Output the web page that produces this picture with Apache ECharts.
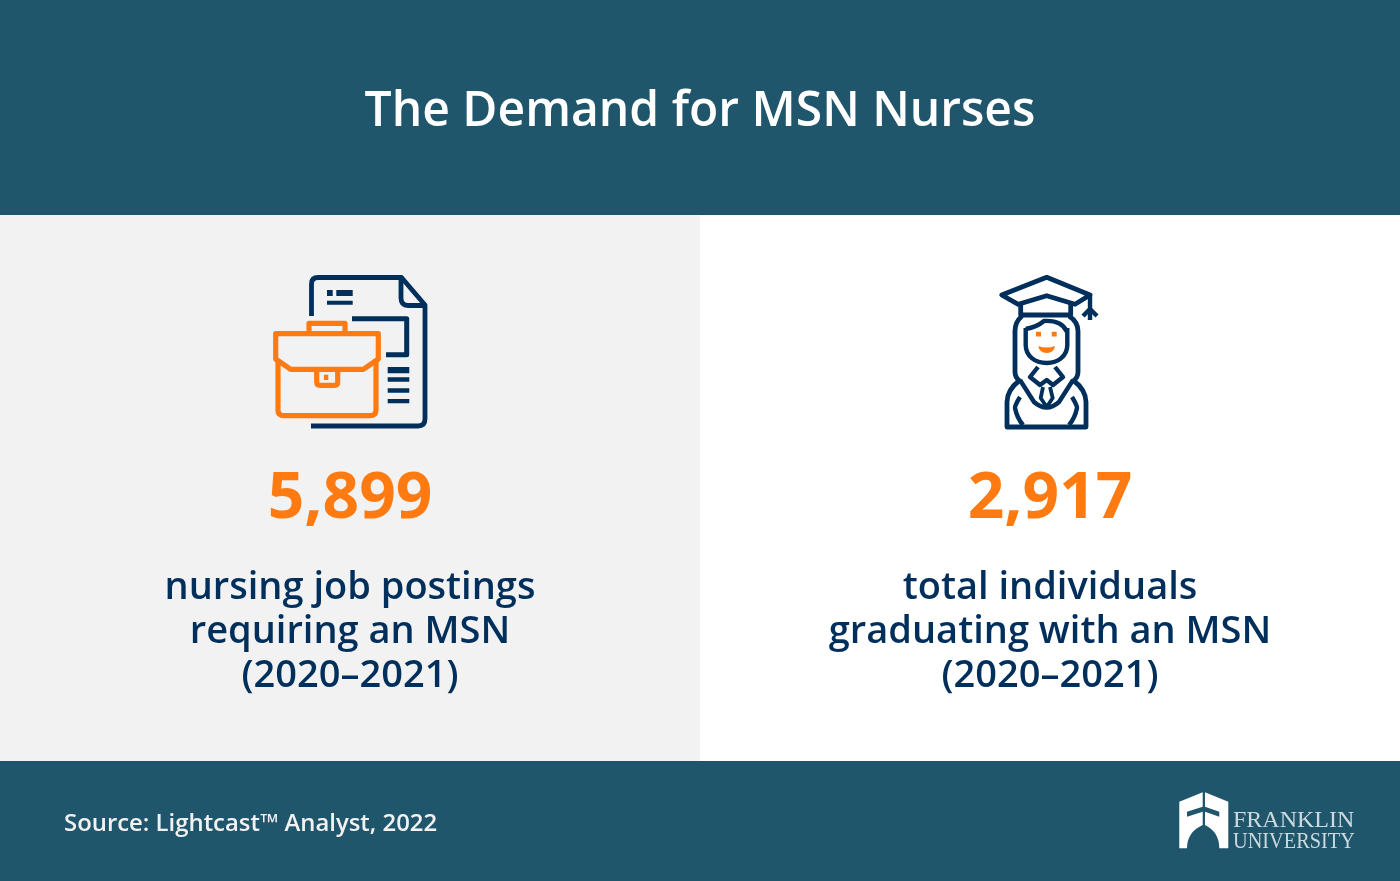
<!DOCTYPE html>
<html>
<head>
<meta charset="utf-8">
<style>
  html, body { margin: 0; padding: 0; background: #fff; }
  #main { width: 1400px; height: 881px; }
</style>
<script src="https://cdn.jsdelivr.net/npm/echarts@6/dist/echarts.min.js"></script>
</head>
<body>
<div id="main"></div>
<script>
const title = 'The Demand for MSN Nurses';
const values = [5899, 2917];
const labels = [
  ['nursing job postings', 'requiring an MSN', '(2020–2021)'],
  ['total individuals', 'graduating with an MSN', '(2020–2021)']
];
const source = 'Source: Lightcast™ Analyst, 2022';
const logoLines = ['FRANKLIN', 'UNIVERSITY'];
const logoStretch = [1.043, 0.883];

const TEAL = '#20566b';
const NAVY = '#002f5c';
const ORANGE = '#ff7a10';
const FONT = '"Open Sans", sans-serif';

const chart = echarts.init(document.getElementById('main'));

// graphic has no plain svg path type, so each one gets registered
let pathCount = 0;
const pathType = (pathData) => {
  const name = 'iconPath' + pathCount++;
  echarts.graphic.registerShape(name, echarts.graphic.extendPath(pathData));
  return name;
};

const rect = (x, y, width, height, fill) => ({
  type: 'rect', silent: true,
  shape: { x, y, width, height },
  style: { fill }
});
const text = (str, x, y, size, weight, fill, align) => ({
  type: 'text', silent: true, x, y,
  style: {
    text: str, fill, align: align || 'center', verticalAlign: 'middle',
    font: `${weight} ${size}px ${FONT}`
  }
});
const stroke = (pathData, color, width) => ({
  type: pathType(pathData), silent: true,
  style: { fill: 'none', stroke: color, lineWidth: width, lineJoin: 'round', lineCap: 'butt' }
});
const solid = (pathData, color) => ({
  type: pathType(pathData), silent: true,
  style: { fill: color }
});

// document + briefcase
const briefcaseIcon = [
  stroke('M311.5 316V284Q311.5 277.5 318 277.5H401.5L425 305V419Q425 426 418 426H311', NAVY, 4.8),
  stroke('M401 278V298Q401 305.5 408 305.5H425', NAVY, 4.8),
  stroke('M352 318.7H406.7V354.7H386', NAVY, 5),
  solid('M327 290h5.7v6h-5.7zM336.3 290h16.4v6h-16.4zM327 300.7h25.7v4h-25.7z', NAVY),
  solid('M387.7 367h21.6v6.3h-21.6zM387.7 377.3h21.6v4.4h-21.6zM387.7 388.3h21.6v4.4h-21.6zM387.7 399h21.6v4.3h-21.6z', NAVY),
  stroke('M309 332V323.3H345V332', ORANGE, 5.2),
  stroke('M275.7 333.7H378.3V359L363.3 369.3H290.7L275.7 359Z', ORANGE, 5.2),
  stroke('M278 360V410Q278 415.7 284 415.7H370Q376 415.7 376 410V360', ORANGE, 5.2),
  stroke('M316.7 370V382Q316.7 385.3 320 385.3H334.5Q337.7 385.3 337.7 382V370', ORANGE, 5.2),
  solid('M324 374.7h4.3v5.3h-4.3z', ORANGE)
];

// graduate
const graduateIcon = [
  stroke('M1046.7 277.3L1090 295L1075 304.3L1046.7 295.7L1018.3 304.3L1001.7 295Z', NAVY, 4.8),
  stroke('M1020.7 304V315H1070.7V304', NAVY, 4.8),
  stroke('M1090 295V320', NAVY, 4.4),
  stroke('M1083 316L1090 309L1097 316', NAVY, 4.4),
  stroke('M1022 316Q1015 322 1015 331V372Q1015 378 1020 381', NAVY, 4.8),
  stroke('M1069 316Q1078 322 1078 331V372Q1078 378 1073 381', NAVY, 4.8),
  stroke('M1025.7 329Q1037 327 1044 321Q1062 320 1067 332', NAVY, 4.4),
  stroke('M1025.7 328V345C1025.7 356 1035 363 1046.7 363C1058 363 1067.3 356 1067.3 345V328', NAVY, 4.4),
  solid('M1036 331.7h5v4.7h-5zM1051.7 331.7h5v4.7h-5z', ORANGE),
  solid('M1038.3 346Q1046.7 349 1055 346Q1054 353 1046.7 353Q1039.3 353 1038.3 346Z', ORANGE),
  stroke('M1020 380Q1007 390 1007 402V427H1086V402Q1086 390 1073 380', NAVY, 4.8),
  stroke('M1020 380L1034 402Q1046.7 413 1059 402L1073 380', NAVY, 4.4),
  stroke('M1038 367L1030 377L1040 385L1046.7 380L1053 385L1063 377L1055 367', NAVY, 4.4),
  stroke('M1043 387L1040.7 398L1046.7 407L1052.7 398L1050 387', NAVY, 3.8),
  stroke('M1020 397Q1015 405 1015 408Q1017 418 1023 425', NAVY, 4.4),
  stroke('M1072 397Q1077 405 1077 408Q1075 418 1069 425', NAVY, 4.4)
];

// logo mark
const logoMark = [
  solid('M1202.7 792.3V806.7L1187 811.7V816.7L1202.7 811.7V825Q1187 832 1187 848.3H1179.3V801.7Z', '#fff'),
  solid('M1205 792.3L1228.3 801.7V848.3H1219.3Q1219.3 832 1205 825V811.7L1219.3 816.7V811.7L1205 806.7Z', '#fff')
];

const graphic = [
  rect(0, 0, 1400, 215, TEAL),
  rect(0, 215, 700, 546, '#f2f2f2'),
  rect(700, 215, 700, 546, '#ffffff'),
  rect(0, 761, 1400, 120, TEAL),
  text(title, 700, 112, 48, 600, '#fff'),
  ...briefcaseIcon,
  ...graduateIcon,
  ...logoMark,
  text(source, 64, 824, 23.9, 600, '#f2f2f2', 'left')
];

[350, 1050].forEach((cx, i) => {
  graphic.push(text(values[i].toLocaleString('en-US'), cx, 500, 64, 700, ORANGE));
  labels[i].forEach((line, j) => {
    graphic.push(text(line, cx, 588 + j * 44, 38, 600, NAVY));
  });
});

logoLines.forEach((line, i) => {
  graphic.push({
    type: 'text', silent: true, x: 1233, y: 821 + i * 21, scaleX: logoStretch[i],
    style: {
      text: line, fill: '#ccd9df', align: 'left', verticalAlign: 'middle',
      font: '400 23px "Liberation Serif", serif'
    }
  });
});

chart.setOption({ animation: false, graphic: { elements: graphic } });
</script>
</body>
</html>
